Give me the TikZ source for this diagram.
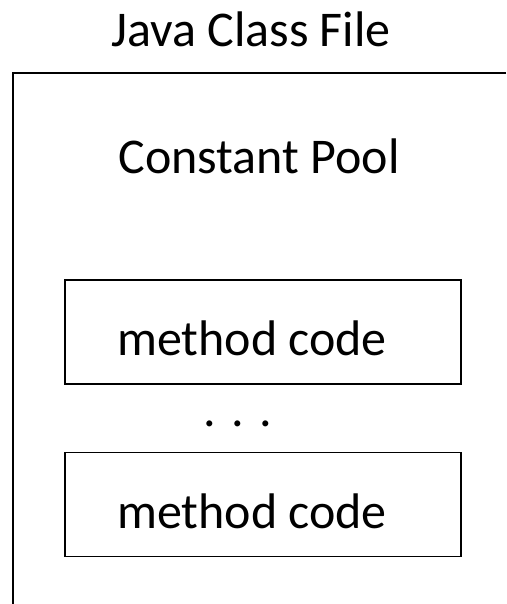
\documentclass[tikz,border=0pt]{standalone}
\usepackage{fontspec}
\setmainfont{Carlito}
\usetikzlibrary{positioning}

\tikzset{
    big text/.style={font=\fontsize{50}{60}\selectfont, inner sep=0pt, anchor=base},
    method box/.style={draw, line width=1.3pt, minimum width=396pt, minimum height=104pt, inner sep=0pt},
}

\begin{document}
\begin{tikzpicture}[x=1pt,y=-1pt]
    \useasboundingbox (0,0) rectangle (506,604);
    % class file frame, open to the right and below
    \coordinate (frametr) at (506,73);
    \coordinate (frametl) at (13,73);
    \coordinate (framebl) at (13,604);
    \draw[line width=1.5pt] (frametr) -- (frametl) -- (framebl);

    \node[big text] (title) at (251,47) {Java Class File};
    \node[big text] (pool) at (259,173) {Constant Pool};

    \node[method box] (mbox1) at (263,332) {};
    \node[big text] (mtext1) at (252,355) {method code};
    \node[big text] (dots) at (238,426) {. . .};
    \node[method box] (mbox2) at (263,504.5) {};
    \node[big text] (mtext2) at (252,528) {method code};
\end{tikzpicture}
\end{document}
